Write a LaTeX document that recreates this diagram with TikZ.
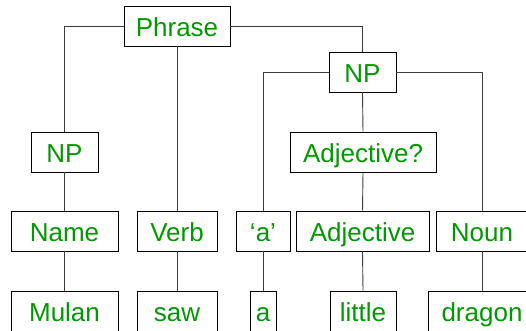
\documentclass[tikz,border=0pt]{standalone}
\usepackage{fontspec}
\setmainfont{Liberation Sans}
\usetikzlibrary{shadows}
\definecolor{wordgreen}{RGB}{0,153,0}
\definecolor{linegray}{RGB}{60,60,60}
\tikzset{
  cat/.style={draw=black, line width=0.9pt, fill=white, inner sep=0pt,
    minimum height=40pt, text height=24pt, text depth=3pt, text=wordgreen,
    font=\fontsize{26}{30}\selectfont,
    drop shadow={shadow xshift=1pt, shadow yshift=-1pt, opacity=0.45, fill=gray}},
  branch/.style={draw=linegray, line width=0.9pt}
}
\begin{document}
\begin{tikzpicture}[x=1pt, y=-1pt]
  \clip (0,0) rectangle (526,331);
  \fill[white] (0,0) rectangle (526,331);
  \path (177,26)    coordinate (cPhrase)
        (64.5,152)  coordinate (cNPa)
        (362.5,72)  coordinate (cNPb)
        (363,152)   coordinate (cAdjOpt)
        (64.5,231)  coordinate (cName)
        (177,231)   coordinate (cVerb)
        (263,231)   coordinate (cQuote)
        (362.5,231) coordinate (cAdj)
        (482,231)   coordinate (cNoun)
        (64.5,311)  coordinate (cMulan)
        (177,311)   coordinate (cSaw)
        (263,311)   coordinate (cA)
        (363,311)   coordinate (cLittle)
        (482,311)   coordinate (cDragon);
  % category and word boxes
  \node[cat, minimum width=106pt] (Phrase) at (cPhrase) {Phrase};
  \node[cat, minimum width=67pt]  (NPa)    at (cNPa)    {NP};
  \node[cat, minimum width=67pt]  (NPb)    at (cNPb)    {NP};
  \node[cat, minimum width=146pt] (AdjOpt) at (cAdjOpt) {Adjective?};
  \node[cat, minimum width=107pt] (Name)   at (cName)   {Name};
  \node[cat, minimum width=80pt]  (Verb)   at (cVerb)   {Verb};
  \node[cat, minimum width=54pt]  (Quote)  at (cQuote)  {‘a’};
  \node[cat, minimum width=133pt] (Adj)    at (cAdj)    {Adjective};
  \node[cat, minimum width=92pt]  (Noun)   at (cNoun)   {Noun};
  \node[cat, minimum width=107pt] (Mulan)  at (cMulan)  {Mulan};
  \node[cat, minimum width=80pt]  (Saw)    at (cSaw)    {saw};
  \node[cat, minimum width=26pt]  (A)      at (cA)      {a};
  \node[cat, minimum width=66pt]  (Little) at (cLittle) {little};
  \node[cat, minimum width=108pt] (Dragon) at (cDragon) {dragon};
  % tree branches
  \draw[branch] (Phrase.west) -| (NPa.north);
  \draw[branch] (Phrase.south) -- (Verb.north);
  \draw[branch] (Phrase.east) -| (NPb.north);
  \draw[branch] (NPb.west) -| (Quote.north);
  \draw[branch] (NPb.south) -- (AdjOpt.north);
  \draw[branch] (NPb.east) -| (Noun.north);
  \draw[branch] (NPa.south) -- (Name.north);
  \draw[branch] (AdjOpt.south) -- (Adj.north);
  \draw[branch] (Name.south) -- (Mulan.north);
  \draw[branch] (Verb.south) -- (Saw.north);
  \draw[branch] (Quote.south) -- (A.north);
  \draw[branch] (Adj.south) -- (Little.north);
  \draw[branch] (Noun.south) -- (Dragon.north);
\end{tikzpicture}
\end{document}
